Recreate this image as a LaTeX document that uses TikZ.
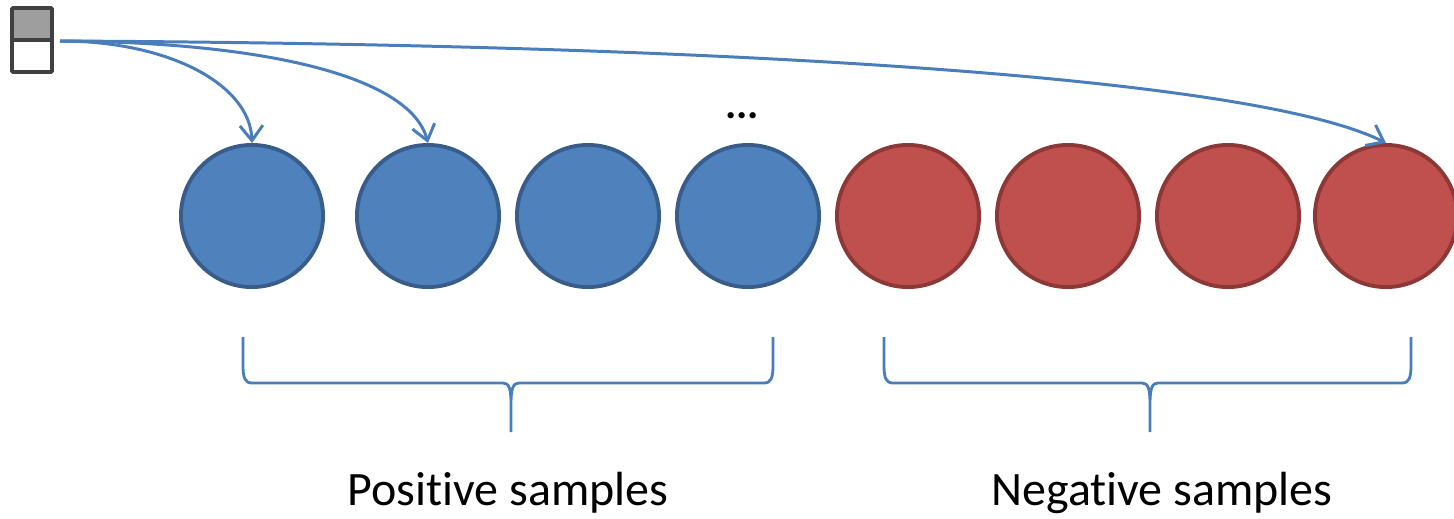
\documentclass[tikz,border=0pt]{standalone}
\usepackage{fontspec}
\setmainfont{Carlito}[Ligatures={NoCommon}]
\usetikzlibrary{arrows.meta}
\definecolor{posfill}{HTML}{4F81BD}
\definecolor{posedge}{HTML}{385D8A}
\definecolor{negfill}{HTML}{C0504D}
\definecolor{negedge}{HTML}{8C3836}
\definecolor{linkcol}{HTML}{4A7EBB}
\tikzset{
  sample/.style={circle, minimum size=146*0.02cm-2.2pt, inner sep=0pt, line width=2.2pt},
  posnode/.style={sample, fill=posfill, draw=posedge},
  negnode/.style={sample, fill=negfill, draw=negedge},
  link/.style={draw=linkcol, line width=1.7pt, -{Straight Barb[length=0.3cm, width=0.46cm, line width=1.7pt]}},
  bracket/.style={draw=linkcol, line width=1.6pt},
  cell/.style={draw=black!75, line width=2pt, minimum width=40*0.02cm, minimum height=32*0.02cm, inner sep=0pt, rounded corners=0.5pt},
  caption/.style={font=\fontsize{27.3}{31}\selectfont, text=black, inner sep=0pt, anchor=base}
}
\begin{document}
\begin{tikzpicture}[x=0.02cm, y=-0.02cm]
  \useasboundingbox (0,0) rectangle (1454,518);
  % query icon: shaded upper cell over an empty lower cell
  \node[cell, fill=black!38] (qtop) at (32,24) {};
  \node[cell, fill=white] (qbot) at (32,56) {};
  \coordinate (src) at (60,41);
  % positive samples
  \node[posnode] (p1) at (252,216) {};
  \node[posnode] (p2) at (428,216) {};
  \node[posnode] (p3) at (588,216) {};
  \node[posnode] (p4) at (748,216) {};
  % negative samples
  \node[negnode] (n1) at (908,216) {};
  \node[negnode] (n2) at (1068,216) {};
  \node[negnode] (n3) at (1228,216) {};
  \node[negnode] (n4) at (1386,216) {};
  \node[font=\fontsize{24}{28}\selectfont\bfseries, inner sep=0pt] (dots) at (742,116) {...};
  % links from the query to selected samples
  \draw[link] (src) .. controls (170,41) and (250,85) .. (p1.north);
  \draw[link] (src) .. controls (260,42) and (410,75) .. (p2.north);
  \draw[link] (src) .. controls (700,44) and (1250,75) .. (n4.north);
  % brackets grouping the samples
  \draw[bracket] (243,337) -- (243,365) .. controls (243,378) and (245,383) .. (252,383)
    -- (503,383) .. controls (509,383) and (511,388) .. (511,405) -- (511,432)
    (511,405) .. controls (511,388) and (513,383) .. (519,383)
    -- (764,383) .. controls (771,383) and (773,378) .. (773,365) -- (773,337);
  \draw[bracket] (884,337) -- (884,365) .. controls (884,378) and (886,383) .. (893,383)
    -- (1142,383) .. controls (1148,383) and (1150,388) .. (1150,405) -- (1150,432)
    (1150,405) .. controls (1150,388) and (1152,383) .. (1158,383)
    -- (1402,383) .. controls (1409,383) and (1411,378) .. (1411,365) -- (1411,337);
  \node[caption] (poslabel) at (508,505) {Positive samples};
  \node[caption] (neglabel) at (1162,505) {Negative samples};
\end{tikzpicture}
\end{document}
